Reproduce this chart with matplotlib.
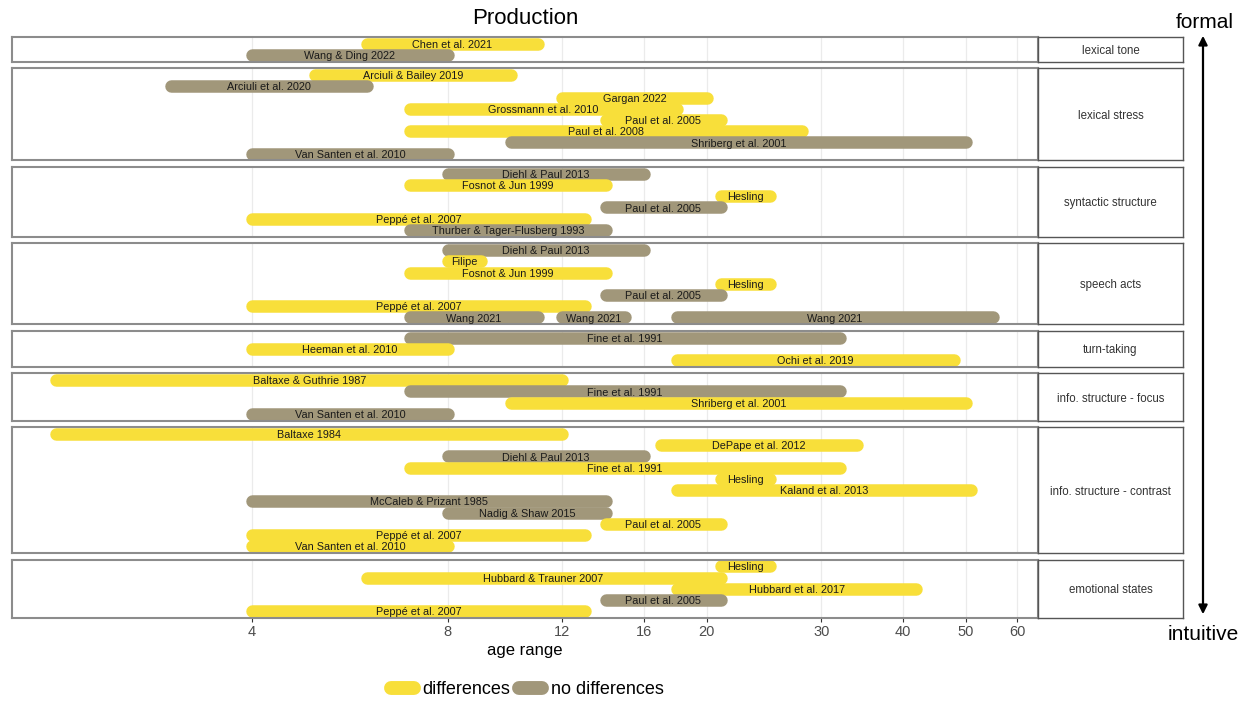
import numpy as np
import matplotlib
matplotlib.use("Agg")
import matplotlib.pyplot as plt
from matplotlib.lines import Line2D
from matplotlib.patches import FancyArrowPatch

plt.rcParams['font.family'] = ['Liberation Sans', 'DejaVu Sans']

# ---------------- data ----------------
facet_names = ["lexical tone", "lexical stress", "syntactic structure", "speech acts",
               "turn-taking", "info. structure - focus", "info. structure - contrast",
               "emotional states"]

facet = (["lexical tone"] * 2 + ["lexical stress"] * 8 + ["syntactic structure"] * 6 +
         ["speech acts"] * 9 + ["turn-taking"] * 3 + ["info. structure - focus"] * 4 +
         ["info. structure - contrast"] * 11 + ["emotional states"] * 5)

study = [
    "Chen et al. 2021", "Wang & Ding 2022",
    "Arciuli & Bailey 2019", "Arciuli et al. 2020", "Gargan 2022", "Grossmann et al. 2010",
    "Paul et al. 2005", "Paul et al. 2008", "Shriberg et al. 2001", "Van Santen et al. 2010",
    "Diehl & Paul 2013", "Fosnot & Jun 1999", "Hesling", "Paul et al. 2005",
    "Peppé et al. 2007", "Thurber & Tager-Flusberg 1993",
    "Diehl & Paul 2013", "Filipe", "Fosnot & Jun 1999", "Hesling", "Paul et al. 2005",
    "Peppé et al. 2007", "Wang 2021", "Wang 2021", "Wang 2021",
    "Fine et al. 1991", "Heeman et al. 2010", "Ochi et al. 2019",
    "Baltaxe & Guthrie 1987", "Fine et al. 1991", "Shriberg et al. 2001", "Van Santen et al. 2010",
    "Baltaxe 1984", "DePape et al. 2012", "Diehl & Paul 2013", "Fine et al. 1991", "Hesling",
    "Kaland et al. 2013", "McCaleb & Prizant 1985", "Nadig & Shaw 2015", "Paul et al. 2005",
    "Peppé et al. 2007", "Van Santen et al. 2010",
    "Hesling", "Hubbard & Trauner 2007", "Hubbard et al. 2017", "Paul et al. 2005",
    "Peppé et al. 2007",
]

age_min = [6, 4,
           5, 3, 12, 7, 14, 7, 10, 4,
           8, 7, 21, 14, 4, 7,
           8, 8, 7, 21, 14, 4, 7, 12, 18,
           7, 4, 18,
           2, 7, 10, 4,
           2, 17, 8, 7, 21, 18, 4, 8, 14, 4, 4,
           21, 6, 18, 14, 4]

age_max = [11, 8,
           10, 6, 20, 18, 21, 28, 50, 8,
           16, 14, 25, 21, 13, 14,
           16, 9, 14, 25, 21, 13, 11, 15, 55,
           32, 8, 48,
           12, 32, 50, 8,
           12, 34, 16, 32, 25, 51, 14, 14, 21, 13, 8,
           25, 21, 42, 21, 13]

outcome = ["differences", "no differences",
           "differences", "no differences", "differences", "differences", "differences",
           "differences", "no differences", "no differences",
           "no differences", "differences", "differences", "no differences", "differences",
           "no differences",
           "no differences", "differences", "differences", "differences", "no differences",
           "differences", "no differences", "no differences", "no differences",
           "no differences", "differences", "differences",
           "differences", "no differences", "differences", "no differences",
           "differences", "differences", "no differences", "differences", "differences",
           "differences", "no differences", "no differences", "differences", "differences",
           "differences",
           "differences", "differences", "differences", "no differences", "differences"]

x_ticks = [4, 8, 12, 16, 20, 30, 40, 50, 60]
colors = {"differences": "#F8DF3A", "no differences": "#A1977A"}

# ---------------- layout ----------------
W, H = 1254, 702
fig = plt.figure(figsize=(W / 100, H / 100), dpi=100)
left_px, right_px, strip_right = 12, 1038, 1183
top_px, unit, gap = 37, 11.22, 6.7
bar_lw = 12.5 * 72 / 100

y_px = top_px
for fi, fname in enumerate(facet_names):
    idx = [i for i, f in enumerate(facet) if f == fname]
    rows = []
    for i in idx:
        if study[i] not in rows:
            rows.append(study[i])
    n = len(rows)
    h = (n + 0.2) * unit
    bottom = 1 - (y_px + h) / H
    ax = fig.add_axes([left_px / W, bottom, (right_px - left_px) / W, h / H])
    sax = fig.add_axes([right_px / W, bottom, (strip_right - right_px) / W, h / H])
    y_px += h + gap

    ax.set_xscale("log")
    ax.set_xlim(1.71, 64.6)
    ax.set_ylim(n + 0.6, 0.4)
    ax.set_xticks(x_ticks)
    ax.set_xticklabels([str(t) for t in x_ticks])
    ax.xaxis.set_minor_locator(matplotlib.ticker.NullLocator())
    ax.set_yticks([])
    for t in x_ticks:
        ax.axvline(t, color="#EBEBEB", lw=0.9, zorder=0)
    for sp in ax.spines.values():
        sp.set_color("#8C8C8C")
        sp.set_linewidth(1.5)
    if fi == len(facet_names) - 1:
        ax.tick_params(axis="x", length=3, color="#333333", labelcolor="#4D4D4D",
                       labelsize=10.5, pad=2)
    else:
        ax.tick_params(axis="x", length=0, labelbottom=False)

    for i in idx:
        r = rows.index(study[i]) + 1
        ax.plot([age_min[i], age_max[i]], [r, r], color=colors[outcome[i]],
                lw=bar_lw, solid_capstyle="round", zorder=2)
    for i in idx:
        r = rows.index(study[i]) + 1
        xm = np.sqrt(age_min[i] * age_max[i])
        ax.text(xm, r + 0.1, study[i], ha="center", va="center", fontsize=7.8,
                color="#1A1A1A", zorder=5)

    sax.set_xticks([])
    sax.set_yticks([])
    for sp in sax.spines.values():
        sp.set_color("#555555")
        sp.set_linewidth(1.0)
    sax.text(0.5, 0.5, fname, ha="center", va="center_baseline", fontsize=8.3,
             color="#333333", transform=sax.transAxes)

# ---------------- annotations ----------------
fig.text(525 / W, 1 - 18 / H, "Production", ha="center", va="center", fontsize=16)
fig.text(525 / W, 1 - 650 / H, "age range", ha="center", va="center", fontsize=12)
fig.text(1205 / W, 1 - 22 / H, "formal", ha="center", va="center", fontsize=15)
fig.text(1203 / W, 1 - 634 / H, "intuitive", ha="center", va="center", fontsize=15)
arrow = FancyArrowPatch((1203 / W, 1 - 617 / H), (1203 / W, 1 - 33 / H),
                        transform=fig.transFigure, arrowstyle="<|-|>",
                        mutation_scale=13, lw=1.6, color="black")
fig.add_artist(arrow)

handles = [Line2D([0], [0], color=colors[k], lw=10, solid_capstyle="round")
           for k in ["differences", "no differences"]]
fig.legend(handles, ["differences", "no differences"], loc="center",
           bbox_to_anchor=(527 / W, 1 - 690 / H), ncol=2, frameon=False,
           handlelength=1.3, handletextpad=0.45, columnspacing=0.5, fontsize=13)

fig.savefig("out.png", dpi=100)
